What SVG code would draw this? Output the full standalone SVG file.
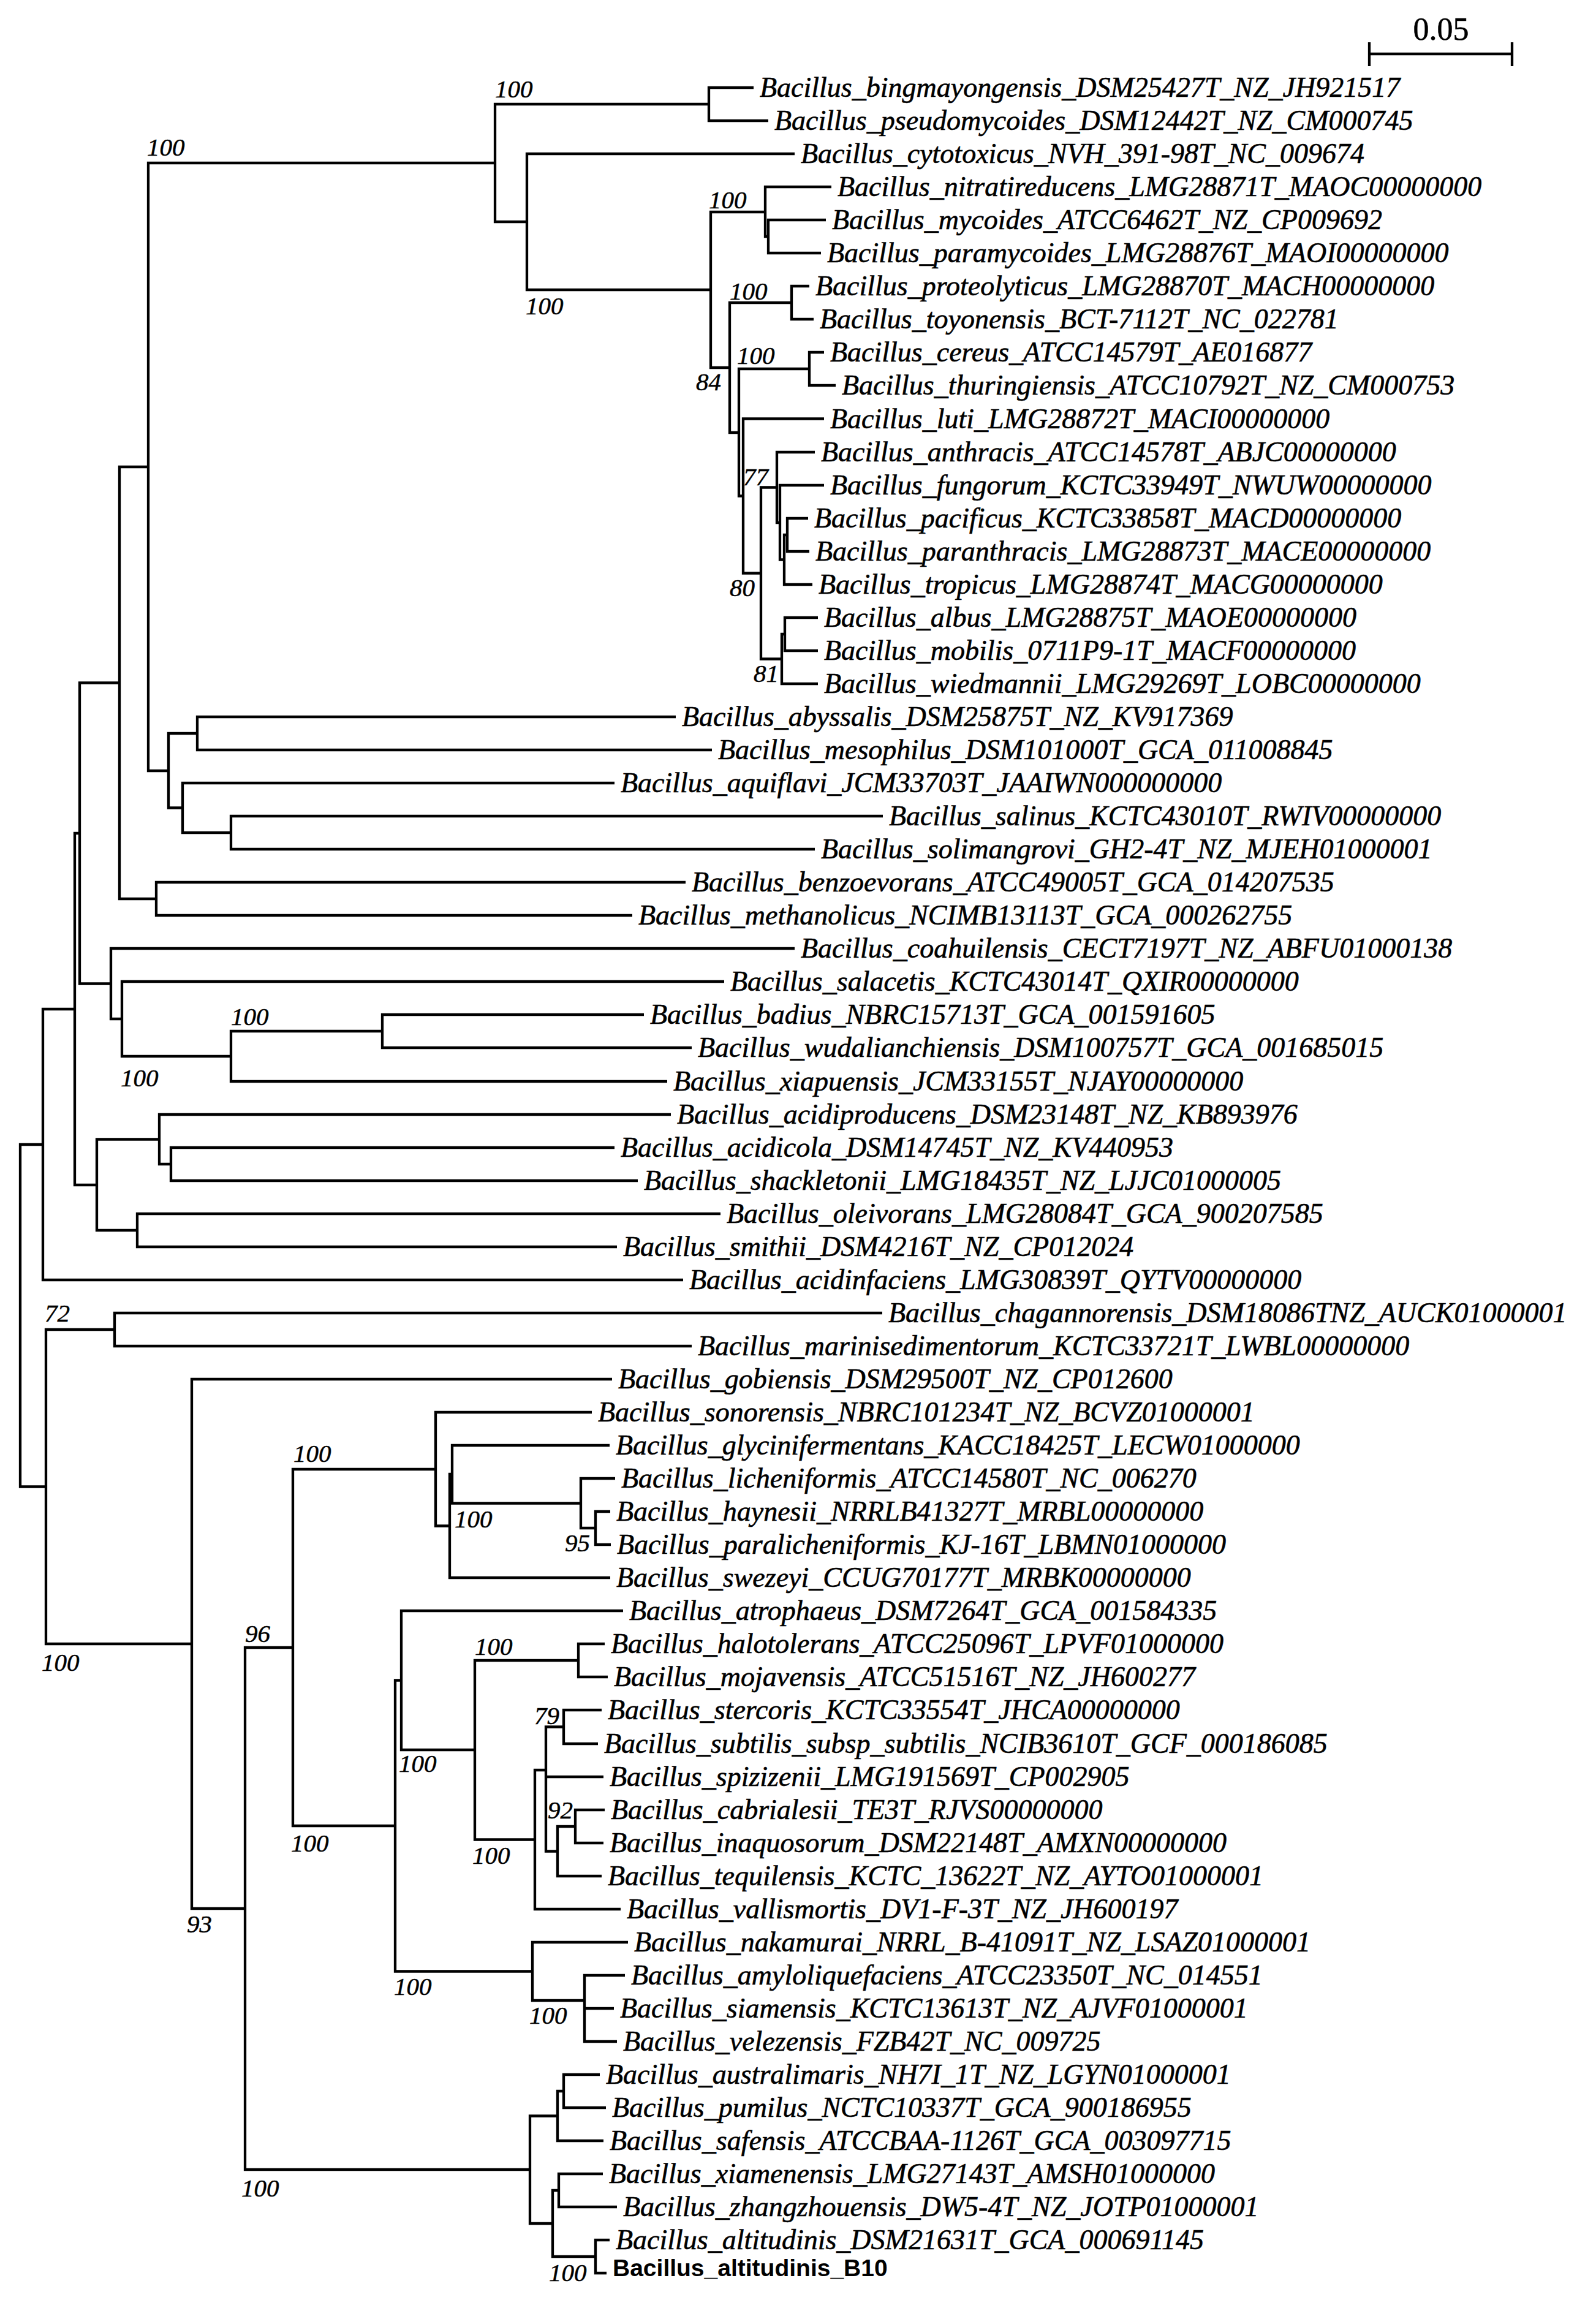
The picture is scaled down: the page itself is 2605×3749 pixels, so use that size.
<svg xmlns="http://www.w3.org/2000/svg" width="2605" height="3749" viewBox="0 0 2605 3749">
<style>
.br{fill:none;stroke:#000;stroke-width:4.3;stroke-linejoin:miter;stroke-linecap:butt}
.lb{font-family:"Liberation Serif","Times New Roman",serif;font-style:italic;font-size:46px;fill:#000;stroke:#000;stroke-width:0.6}
.bs{font-family:"Liberation Serif","Times New Roman",serif;font-style:italic;font-size:41px;fill:#000;stroke:#000;stroke-width:0.5}
.sc{font-family:"Liberation Serif","Times New Roman",serif;font-size:52px;fill:#000;text-anchor:middle;stroke:#000;stroke-width:0.5}
.b10{font-family:"Liberation Sans",Arial,sans-serif;font-weight:bold;font-size:39px;fill:#000}
</style>
<rect width="2605" height="3749" fill="#fff"/>
<g id="connectors" class="br">
<path d="M1230,143 H1157 V197 H1254"/>
<path d="M1348,359 H1254 V413 H1340"/>
<path d="M1357,305 H1249 V386 H1254"/>
<path d="M1321,467 H1292 V521 H1328"/>
<path d="M1345,575 H1321 V629 H1364"/>
<path d="M1319,846 H1285 V900 H1321"/>
<path d="M1285,873 H1280 V954 H1326"/>
<path d="M1345,792 H1273 V913.5 H1280"/>
<path d="M1330,738 H1268 V853 H1273"/>
<path d="M1335,1008 H1281 V1062 H1335"/>
<path d="M1281,1035 H1276 V1116 H1335"/>
<path d="M1268,795.5 H1242 V1075.5 H1276"/>
<path d="M1345,683.5 H1213 V935.5 H1242"/>
<path d="M1321,602 H1206 V809.5 H1213"/>
<path d="M1292,494 H1191 V706 H1206"/>
<path d="M1249,346 H1160 V600 H1191"/>
<path d="M1297,251 H860 V473 H1160"/>
<path d="M1157,170 H808 V362 H860"/>
<path d="M1103,1170 H322 V1224 H1162"/>
<path d="M1441,1332 H377 V1386 H1330"/>
<path d="M1003,1278 H298 V1359 H377"/>
<path d="M322,1197 H275 V1318.5 H298"/>
<path d="M808,266 H242 V1258 H275"/>
<path d="M1119,1440 H255 V1494 H1032"/>
<path d="M242,762 H195 V1467 H255"/>
<path d="M1051,1656 H624 V1710 H1129"/>
<path d="M624,1683 H377 V1765 H1089"/>
<path d="M1182,1602 H199 V1724 H377"/>
<path d="M1297,1548 H181 V1663 H199"/>
<path d="M195,1114.5 H130 V1605.5 H181"/>
<path d="M1003,1873 H279 V1927 H1041"/>
<path d="M1095,1819 H260 V1900 H279"/>
<path d="M1176,1981 H224 V2035 H1007"/>
<path d="M260,1859.5 H158 V2008 H224"/>
<path d="M130,1360 H122 V1934 H158"/>
<path d="M122,1647 H70 V2089 H1115"/>
<path d="M1440,2143 H187 V2197 H1129"/>
<path d="M996,2467 H972 V2521 H997"/>
<path d="M1004,2413 H948 V2494 H972"/>
<path d="M995,2359 H738 V2453.5 H948"/>
<path d="M738,2406 H734 V2575 H996"/>
<path d="M966,2305 H711 V2490.5 H734"/>
<path d="M987,2683 H944 V2737 H992"/>
<path d="M982,2791 H920 V2846 H976"/>
<path d="M987,2954 H939 V3008 H985"/>
<path d="M939,2981 H910 V3062 H982"/>
<path d="M920,2818.5 H891 V3021.5 H910 M891,2900 H985"/>
<path d="M891,2889 H873 V3116 H1013"/>
<path d="M944,2710 H775 V3002.5 H873"/>
<path d="M1017,2629 H655 V2856 H775"/>
<path d="M1020,3224 H954 V3332 H1007 M954,3278 H1002"/>
<path d="M1025,3170 H869 V3265 H954"/>
<path d="M655,2742.5 H645 V3217.5 H869"/>
<path d="M711,2398 H478 V2980 H645"/>
<path d="M979,3386 H920 V3440 H989"/>
<path d="M920,3413 H910 V3494 H985"/>
<path d="M984,3548 H912 V3602 H1007"/>
<path d="M995,3656 H972 V3710 H990"/>
<path d="M912,3575 H902 V3683 H972"/>
<path d="M910,3453.5 H865 V3629 H902"/>
<path d="M478,2689 H400 V3541 H865"/>
<path d="M999,2251 H313 V3115 H400"/>
<path d="M187,2170 H75 V2683 H313"/>
<path d="M70,1868 H33 V2426.5 H75"/>
</g>
<g id="scale-bar">
<path class="br" d="M2235,88 H2468 M2235,69 V108 M2468,69 V108"/>
<text class="sc" x="2352" y="65">0.05</text>
</g>
<g id="bootstrap" class="bs">
<text x="808" y="159">100</text>
<text x="240" y="254">100</text>
<text x="1157" y="340">100</text>
<text x="858" y="513">100</text>
<text x="1191" y="489">100</text>
<text x="1203" y="594">100</text>
<text x="1136" y="637">84</text>
<text x="1213" y="792">77</text>
<text x="1191" y="973">80</text>
<text x="1230" y="1113">81</text>
<text x="377" y="1673">100</text>
<text x="197" y="1773">100</text>
<text x="73" y="2157">72</text>
<text x="479" y="2386">100</text>
<text x="742" y="2493">100</text>
<text x="922" y="2532">95</text>
<text x="68" y="2727">100</text>
<text x="400" y="2680">96</text>
<text x="775" y="2701">100</text>
<text x="872" y="2814">79</text>
<text x="651" y="2892">100</text>
<text x="894" y="2968">92</text>
<text x="475" y="3022">100</text>
<text x="771" y="3042">100</text>
<text x="305" y="3154">93</text>
<text x="643" y="3256">100</text>
<text x="864" y="3303">100</text>
<text x="394" y="3585">100</text>
<text x="896" y="3723">100</text>
</g>
<g id="leaf-01"><text class="lb" x="1240" y="158">Bacillus_bingmayongensis_DSM25427T_NZ_JH921517</text></g>
<g id="leaf-02"><text class="lb" x="1264" y="212">Bacillus_pseudomycoides_DSM12442T_NZ_CM000745</text></g>
<g id="leaf-03"><text class="lb" x="1307" y="266">Bacillus_cytotoxicus_NVH_391-98T_NC_009674</text></g>
<g id="leaf-04"><text class="lb" x="1367" y="320">Bacillus_nitratireducens_LMG28871T_MAOC00000000</text></g>
<g id="leaf-05"><text class="lb" x="1358" y="374">Bacillus_mycoides_ATCC6462T_NZ_CP009692</text></g>
<g id="leaf-06"><text class="lb" x="1350" y="428">Bacillus_paramycoides_LMG28876T_MAOI00000000</text></g>
<g id="leaf-07"><text class="lb" x="1331" y="482">Bacillus_proteolyticus_LMG28870T_MACH00000000</text></g>
<g id="leaf-08"><text class="lb" x="1338" y="536">Bacillus_toyonensis_BCT-7112T_NC_022781</text></g>
<g id="leaf-09"><text class="lb" x="1355" y="590">Bacillus_cereus_ATCC14579T_AE016877</text></g>
<g id="leaf-10"><text class="lb" x="1374" y="644">Bacillus_thuringiensis_ATCC10792T_NZ_CM000753</text></g>
<g id="leaf-11"><text class="lb" x="1355" y="698.5">Bacillus_luti_LMG28872T_MACI00000000</text></g>
<g id="leaf-12"><text class="lb" x="1340" y="753">Bacillus_anthracis_ATCC14578T_ABJC00000000</text></g>
<g id="leaf-13"><text class="lb" x="1355" y="807">Bacillus_fungorum_KCTC33949T_NWUW00000000</text></g>
<g id="leaf-14"><text class="lb" x="1329" y="861">Bacillus_pacificus_KCTC33858T_MACD00000000</text></g>
<g id="leaf-15"><text class="lb" x="1331" y="915">Bacillus_paranthracis_LMG28873T_MACE00000000</text></g>
<g id="leaf-16"><text class="lb" x="1336" y="969">Bacillus_tropicus_LMG28874T_MACG00000000</text></g>
<g id="leaf-17"><text class="lb" x="1345" y="1023">Bacillus_albus_LMG28875T_MAOE00000000</text></g>
<g id="leaf-18"><text class="lb" x="1345" y="1077">Bacillus_mobilis_0711P9-1T_MACF00000000</text></g>
<g id="leaf-19"><text class="lb" x="1345" y="1131">Bacillus_wiedmannii_LMG29269T_LOBC00000000</text></g>
<g id="leaf-20"><text class="lb" x="1113" y="1185">Bacillus_abyssalis_DSM25875T_NZ_KV917369</text></g>
<g id="leaf-21"><text class="lb" x="1172" y="1239">Bacillus_mesophilus_DSM101000T_GCA_011008845</text></g>
<g id="leaf-22"><text class="lb" x="1013" y="1293">Bacillus_aquiflavi_JCM33703T_JAAIWN000000000</text></g>
<g id="leaf-23"><text class="lb" x="1451" y="1347">Bacillus_salinus_KCTC43010T_RWIV00000000</text></g>
<g id="leaf-24"><text class="lb" x="1340" y="1401">Bacillus_solimangrovi_GH2-4T_NZ_MJEH01000001</text></g>
<g id="leaf-25"><text class="lb" x="1129" y="1455">Bacillus_benzoevorans_ATCC49005T_GCA_014207535</text></g>
<g id="leaf-26"><text class="lb" x="1042" y="1509">Bacillus_methanolicus_NCIMB13113T_GCA_000262755</text></g>
<g id="leaf-27"><text class="lb" x="1307" y="1563">Bacillus_coahuilensis_CECT7197T_NZ_ABFU01000138</text></g>
<g id="leaf-28"><text class="lb" x="1192" y="1617">Bacillus_salacetis_KCTC43014T_QXIR00000000</text></g>
<g id="leaf-29"><text class="lb" x="1061" y="1671">Bacillus_badius_NBRC15713T_GCA_001591605</text></g>
<g id="leaf-30"><text class="lb" x="1139" y="1725">Bacillus_wudalianchiensis_DSM100757T_GCA_001685015</text></g>
<g id="leaf-31"><text class="lb" x="1099" y="1780">Bacillus_xiapuensis_JCM33155T_NJAY00000000</text></g>
<g id="leaf-32"><text class="lb" x="1105" y="1834">Bacillus_acidiproducens_DSM23148T_NZ_KB893976</text></g>
<g id="leaf-33"><text class="lb" x="1013" y="1888">Bacillus_acidicola_DSM14745T_NZ_KV440953</text></g>
<g id="leaf-34"><text class="lb" x="1051" y="1942">Bacillus_shackletonii_LMG18435T_NZ_LJJC01000005</text></g>
<g id="leaf-35"><text class="lb" x="1186" y="1996">Bacillus_oleivorans_LMG28084T_GCA_900207585</text></g>
<g id="leaf-36"><text class="lb" x="1017" y="2050">Bacillus_smithii_DSM4216T_NZ_CP012024</text></g>
<g id="leaf-37"><text class="lb" x="1125" y="2104">Bacillus_acidinfaciens_LMG30839T_QYTV00000000</text></g>
<g id="leaf-38"><text class="lb" x="1450" y="2158">Bacillus_chagannorensis_DSM18086TNZ_AUCK01000001</text></g>
<g id="leaf-39"><text class="lb" x="1139" y="2212">Bacillus_marinisedimentorum_KCTC33721T_LWBL00000000</text></g>
<g id="leaf-40"><text class="lb" x="1009" y="2266">Bacillus_gobiensis_DSM29500T_NZ_CP012600</text></g>
<g id="leaf-41"><text class="lb" x="976" y="2320">Bacillus_sonorensis_NBRC101234T_NZ_BCVZ01000001</text></g>
<g id="leaf-42"><text class="lb" x="1005" y="2374">Bacillus_glycinifermentans_KACC18425T_LECW01000000</text></g>
<g id="leaf-43"><text class="lb" x="1014" y="2428">Bacillus_licheniformis_ATCC14580T_NC_006270</text></g>
<g id="leaf-44"><text class="lb" x="1006" y="2482">Bacillus_haynesii_NRRLB41327T_MRBL00000000</text></g>
<g id="leaf-45"><text class="lb" x="1007" y="2536">Bacillus_paralicheniformis_KJ-16T_LBMN01000000</text></g>
<g id="leaf-46"><text class="lb" x="1006" y="2590">Bacillus_swezeyi_CCUG70177T_MRBK00000000</text></g>
<g id="leaf-47"><text class="lb" x="1027" y="2644">Bacillus_atrophaeus_DSM7264T_GCA_001584335</text></g>
<g id="leaf-48"><text class="lb" x="997" y="2698">Bacillus_halotolerans_ATCC25096T_LPVF01000000</text></g>
<g id="leaf-49"><text class="lb" x="1002" y="2752">Bacillus_mojavensis_ATCC51516T_NZ_JH600277</text></g>
<g id="leaf-50"><text class="lb" x="992" y="2806">Bacillus_stercoris_KCTC33554T_JHCA00000000</text></g>
<g id="leaf-51"><text class="lb" x="986" y="2861">Bacillus_subtilis_subsp_subtilis_NCIB3610T_GCF_000186085</text></g>
<g id="leaf-52"><text class="lb" x="995" y="2915">Bacillus_spizizenii_LMG191569T_CP002905</text></g>
<g id="leaf-53"><text class="lb" x="997" y="2969">Bacillus_cabrialesii_TE3T_RJVS00000000</text></g>
<g id="leaf-54"><text class="lb" x="995" y="3023">Bacillus_inaquosorum_DSM22148T_AMXN00000000</text></g>
<g id="leaf-55"><text class="lb" x="992" y="3077">Bacillus_tequilensis_KCTC_13622T_NZ_AYTO01000001</text></g>
<g id="leaf-56"><text class="lb" x="1023" y="3131">Bacillus_vallismortis_DV1-F-3T_NZ_JH600197</text></g>
<g id="leaf-57"><text class="lb" x="1035" y="3185">Bacillus_nakamurai_NRRL_B-41091T_NZ_LSAZ01000001</text></g>
<g id="leaf-58"><text class="lb" x="1030" y="3239">Bacillus_amyloliquefaciens_ATCC23350T_NC_014551</text></g>
<g id="leaf-59"><text class="lb" x="1012" y="3293">Bacillus_siamensis_KCTC13613T_NZ_AJVF01000001</text></g>
<g id="leaf-60"><text class="lb" x="1017" y="3347">Bacillus_velezensis_FZB42T_NC_009725</text></g>
<g id="leaf-61"><text class="lb" x="989" y="3401">Bacillus_australimaris_NH7I_1T_NZ_LGYN01000001</text></g>
<g id="leaf-62"><text class="lb" x="999" y="3455">Bacillus_pumilus_NCTC10337T_GCA_900186955</text></g>
<g id="leaf-63"><text class="lb" x="995" y="3509">Bacillus_safensis_ATCCBAA-1126T_GCA_003097715</text></g>
<g id="leaf-64"><text class="lb" x="994" y="3563">Bacillus_xiamenensis_LMG27143T_AMSH01000000</text></g>
<g id="leaf-65"><text class="lb" x="1017" y="3617">Bacillus_zhangzhouensis_DW5-4T_NZ_JOTP01000001</text></g>
<g id="leaf-66"><text class="lb" x="1005" y="3671">Bacillus_altitudinis_DSM21631T_GCA_000691145</text></g>
<g id="leaf-67"><text class="b10" x="1000" y="3715">Bacillus_altitudinis_B10</text></g>
</svg>
